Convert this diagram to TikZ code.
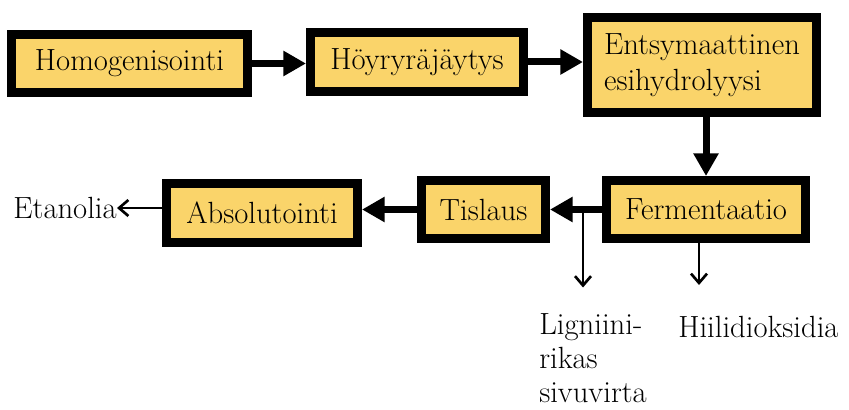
\documentclass[tikz,border=0pt]{standalone}
\usetikzlibrary{arrows.meta,positioning,calc}
\definecolor{boxfill}{RGB}{250,212,106}

\begin{document}
\begin{tikzpicture}[
    x=0.75pt, y=-0.75pt,
    stage/.style={rectangle, draw, line width=6.75pt, fill=boxfill, inner sep=0pt, align=center, font=\fontsize{23}{27}\selectfont},
    flow/.style={-{Triangle[length=17pt, width=18pt]}, line width=5.25pt},
    side/.style={-{Straight Barb[length=7pt, width=12pt]}, line width=2pt},
    outlabel/.style={font=\fontsize{23}{25.5}\selectfont, inner sep=0pt, align=left}
]
    \useasboundingbox (0,0) rectangle (849,410);

    % Stages
    \node[stage, minimum width=177pt, minimum height=43.5pt] (homog) at (129.5,63.5) {Homogenisointi};
    \node[stage, minimum width=159.75pt, minimum height=44.25pt] (hoyry) at (417,62) {Höyryräjäytys};
    \node[stage, minimum width=171.75pt, minimum height=71.25pt, align=left] (entsy) at (702,65) {Entsymaattinen\\esihydrolyysi};
    \node[stage, minimum width=149.25pt, minimum height=43.5pt] (ferm) at (706,209.5) {Fermentaatio};
    \node[stage, minimum width=93pt, minimum height=43.5pt] (tislaus) at (483.5,209.5) {Tislaus};
    \node[stage, minimum width=143.25pt, minimum height=44.25pt] (absol) at (262,213) {Absolutointi};

    % Outputs
    \node[outlabel, anchor=east] (etanolia) at (117,208) {Etanolia};
    \node[outlabel, anchor=north west] (lignin) at (539,313) {Ligniini-\\rikas\\sivuvirta};
    \node[outlabel, anchor=base west] (co2) at (678,337) {Hiilidioksidia};

    % Main flow
    \draw[flow] (homog.east) -- (homog.east -| hoyry.west);
    \draw[flow] (hoyry.east) -- (hoyry.east -| entsy.west);
    \draw[flow] (ferm.north |- entsy.south) -- (ferm.north);
    \draw[flow] (ferm.west) -- (ferm.west -| tislaus.east);
    \draw[flow] (tislaus.west) -- (tislaus.west -| absol.east);

    % Side streams
    \coordinate (split) at ($(ferm.west)+(-19,0)$);
    \coordinate (ligninend) at ($(split)+(0,78)$);
    \coordinate (co2start) at ($(ferm.south)+(-7,0)$);
    \coordinate (co2end) at ($(co2start)+(0,42)$);
    \draw[side] (etanolia.east -| absol.west) -- (etanolia.east);
    \draw[side] (split) -- (ligninend);
    \draw[side] (co2start) -- (co2end);

\end{tikzpicture}
\end{document}
